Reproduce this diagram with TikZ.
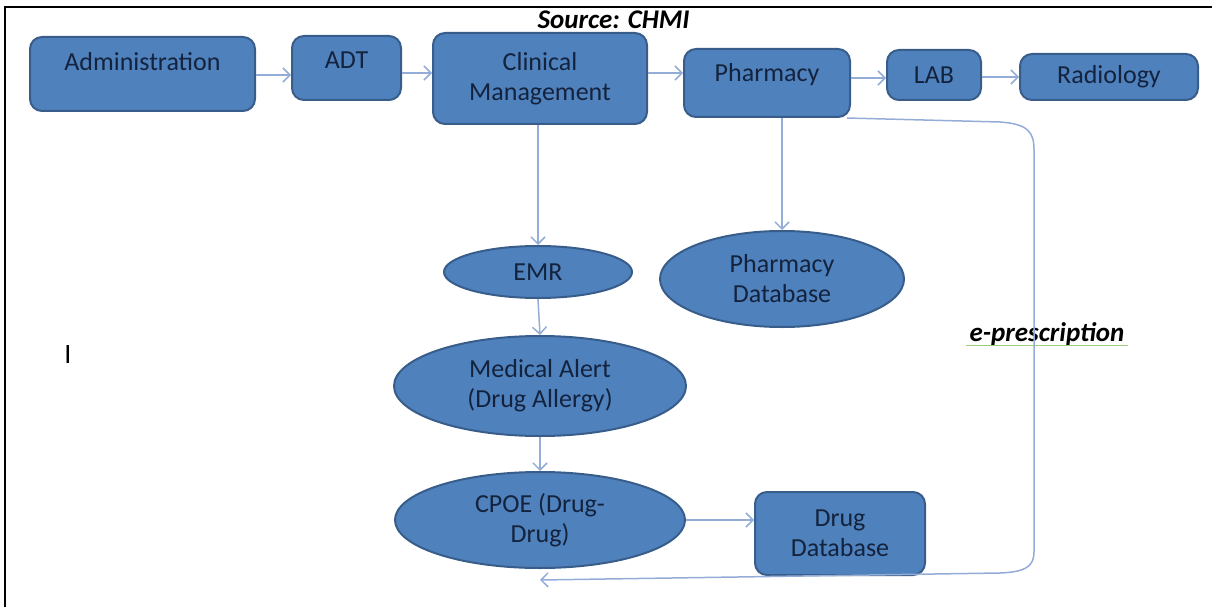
\documentclass[tikz,border=0pt]{standalone}
\usepackage{fontspec}
\setmainfont{Carlito}
\usetikzlibrary{arrows.meta,shapes.geometric,calc}
\definecolor{boxfill}{HTML}{4F81BD}
\definecolor{boxline}{HTML}{385D8A}
\definecolor{flow}{HTML}{93ACD8}
\definecolor{ink}{HTML}{14233D}
\definecolor{squiggle}{HTML}{9ACD7E}
\begin{document}
\begin{tikzpicture}[x=1pt,y=-1pt,
  rbox/.style={draw=boxline, fill=boxfill, line width=2pt, rounded corners=12pt, inner sep=0pt},
  oval/.style={ellipse, draw=boxline, fill=boxfill, line width=2pt, inner sep=0pt},
  txt/.style={text=ink, font=\fontsize{26}{30}\selectfont, align=center},
  note/.style={text=black, font=\fontsize{27}{30}\selectfont\bfseries\itshape},
  arr/.style={draw=flow, line width=1.5pt, -{Straight Barb[length=7pt,width=14pt]}}]
\useasboundingbox (0,0) rectangle (1212,607);
% frame
\draw[line width=2.5pt] (5,607) -- (5,7) -- (1212,7);

\node[note, anchor=west] (src) at (534,20) {Source: CHMI};

% top row of modules
\node[rbox, minimum width=225pt, minimum height=74pt,
      label={[txt,yshift=12pt]center:Administration}] (adm) at (142.5,74) {};
\node[rbox, minimum width=109pt, minimum height=64pt,
      label={[txt,yshift=8pt]center:ADT}] (adt) at (346.5,68) {};
\node[rbox, minimum width=214pt, minimum height=91pt,
      label={[txt]center:Clinical\\Management}] (clin) at (540,78.5) {};
\node[rbox, minimum width=166pt, minimum height=68pt,
      label={[txt,yshift=8pt]center:Pharmacy}] (phar) at (767,83) {};
\node[rbox, minimum width=94pt, minimum height=50pt,
      label={[txt]center:LAB}] (lab) at (934,75) {};
\node[rbox, minimum width=178pt, minimum height=46pt,
      label={[txt]center:Radiology}] (rad) at (1109,77) {};

% lower part
\node[oval, txt, minimum width=188pt, minimum height=52pt] (emr) at (538,272) {EMR};
\node[oval, txt, minimum width=244pt, minimum height=96pt] (pdb) at (782,279) {Pharmacy\\Database};
\node[oval, txt, minimum width=292pt, minimum height=100pt] (med) at (540,386) {Medical Alert\\(Drug Allergy)};
\node[oval, txt, minimum width=290pt, minimum height=96pt] (cpoe) at (540,520) {CPOE (Drug-\\Drug)};
\node[rbox, txt, minimum width=170pt, minimum height=83pt] (ddb) at (840,533.5) {Drug\\Database};

\node[note] (ep) at (1047,334) {e-prescription};
\draw[squiggle, line width=1.2pt] ([yshift=-4pt]ep.base west) -- ([yshift=-4pt]ep.base east);
\node[text=black, font=\fontsize{28}{30}\selectfont] (cursor) at (68,355) {I};

% connectors
\draw[arr] (adm.east |- 0,75) -- (adt.west |- 0,75);
\draw[arr] (adt.east |- 0,73) -- (clin.west |- 0,73);
\draw[arr] (clin.east |- 0,73) -- (phar.west |- 0,73);
\draw[arr] (phar.east |- 0,78) -- (lab.west |- 0,78);
\draw[arr] (lab.east |- 0,77) -- (rad.west |- 0,77);
\draw[arr] (clin.south -| emr.north) -- (emr.north);
\draw[arr] (phar.south -| pdb.north) -- (pdb.north);
\draw[arr] (emr.south) -- (med.north);
\draw[arr] (med.south) -- (cpoe.north);
\draw[arr] (cpoe.east) -- (cpoe.east -| ddb.west);
\coordinate (rxend) at ($(cpoe.south)+(0,11)$);
\draw[arr] ([xshift=-4pt]phar.south east) -- (1000,122)
  .. controls (1028,124) and (1034,132) .. (1034,150) -- (1034,552)
  .. controls (1034,566) and (1026,572) .. (1000,573) -- (rxend);
\end{tikzpicture}
\end{document}
